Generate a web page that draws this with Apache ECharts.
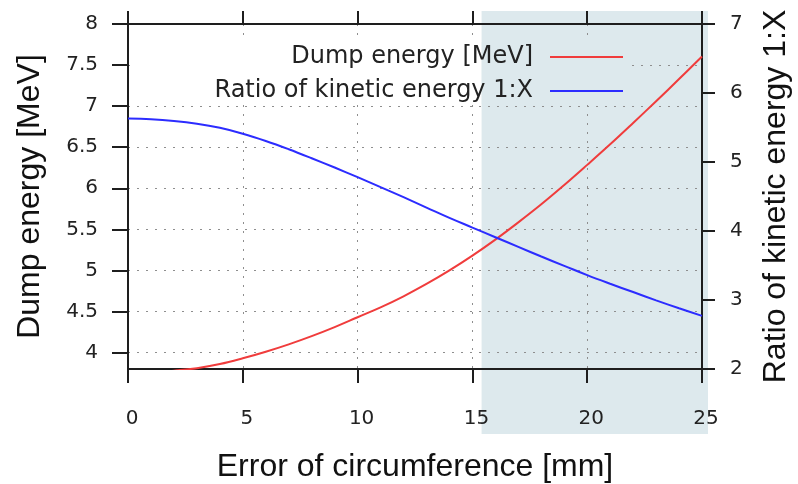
<!DOCTYPE html>
<html>
<head>
<meta charset="utf-8">
<script src="https://cdn.jsdelivr.net/npm/echarts@6/dist/echarts.min.js"></script>
<style>
html,body{margin:0;padding:0;background:#fff;}
#chart{width:798px;height:484px;}
</style>
</head>
<body>
<div id="chart"></div>
<script>
var errorMm = [0,1,2,3,4,5,6,7,8,9,10,11,12,13,14,15,16,17,18,19,20,21,22,23,24,25];
var dumpEnergy = [3.75,3.76,3.78,3.81,3.86,3.93,4.01,4.10,4.20,4.31,4.43,4.55,4.685,4.835,5.00,5.18,5.375,5.585,5.805,6.04,6.285,6.535,6.795,7.06,7.33,7.605];
var energyRatio = [5.63,5.62,5.595,5.555,5.495,5.41,5.305,5.185,5.055,4.92,4.78,4.635,4.49,4.34,4.19,4.05,3.91,3.77,3.63,3.495,3.36,3.235,3.115,2.995,2.88,2.77];
var xTicks = [0,5,10,15,20,25];
var leftTicks = [4,4.5,5,5.5,6,6.5,7,7.5,8];
var rightTicks = [2,3,4,5,6,7];
var seriesNames = ['Dump energy [MeV]','Ratio of kinetic energy 1:X'];
var shadeFrom = 15.4;

var axisColor = '#1e1e1e';
var gridLine = {show: true, lineStyle: {color: '#8e8e8e', width: 1, type: [2, 7]}};
var nameFont = {fontFamily: 'Liberation Sans', fontSize: 32, color: '#111'};

function pairs(xs, ys){
	var out = [];
	for(var i = 0;i < xs.length;i++){
		out.push([xs[i], ys[i]]);
	}
	return out;
}

function legendFor(name, top){
	return {
		data: [name],
		orient: 'vertical',
		align: 'right',
		right: 175,
		top: top,
		padding: 0,
		icon: 'rect',
		itemWidth: 73,
		itemHeight: 2,
		z: 10,
		textStyle: {fontFamily: 'DejaVu Sans', fontSize: 24, color: '#222', padding: [0, 12, 0, 0]}
	};
}

function axisLineOf(){
	return {show: true, onZero: false, lineStyle: {color: axisColor, width: 2}};
}

var chart = echarts.init(document.getElementById('chart'));
var option = {
	animation: false,
	backgroundColor: '#fff',
	grid: {left: 128, right: 96, top: 24, bottom: 115, outerBoundsMode: 'none'},
	legend: [legendFor(seriesNames[0], 45), legendFor(seriesNames[1], 79)],
	xAxis: [{
		type: 'value',
		min: 0,
		max: 25,
		position: 'bottom',
		name: 'Error of circumference [mm]',
		nameLocation: 'middle',
		nameGap: 82,
		nameTextStyle: nameFont,
		axisLine: axisLineOf(),
		axisTick: {show: true, inside: false, length: 14, lineStyle: {color: axisColor, width: 2}, customValues: xTicks},
		axisLabel: {show: true, margin: 40, padding: [0, 0, 0, 8], customValues: xTicks, fontFamily: 'DejaVu Sans', fontSize: 20, color: '#222'},
		splitLine: gridLine
	}, {
		type: 'value',
		min: 0,
		max: 25,
		position: 'top',
		axisLine: axisLineOf(),
		axisTick: {show: true, inside: false, length: 13, lineStyle: {color: axisColor, width: 2}, customValues: xTicks},
		axisLabel: {show: false},
		splitLine: {show: false}
	}],
	yAxis: [{
		type: 'value',
		min: 3.8,
		max: 8,
		position: 'left',
		name: seriesNames[0],
		nameLocation: 'middle',
		nameRotate: 90,
		nameGap: 82,
		nameTextStyle: nameFont,
		axisLine: axisLineOf(),
		axisTick: {show: true, inside: false, length: 16, lineStyle: {color: axisColor, width: 2}, customValues: leftTicks},
		axisLabel: {show: true, margin: 30, customValues: leftTicks, fontFamily: 'DejaVu Sans', fontSize: 20, color: '#222'},
		splitLine: gridLine
	}, {
		type: 'value',
		min: 2,
		max: 7,
		position: 'right',
		name: seriesNames[1],
		nameLocation: 'middle',
		nameRotate: 90,
		nameGap: 58,
		nameTextStyle: nameFont,
		axisLine: axisLineOf(),
		axisTick: {show: true, inside: false, length: 13, lineStyle: {color: axisColor, width: 2}, customValues: rightTicks},
		axisLabel: {show: true, margin: 28, customValues: rightTicks, fontFamily: 'DejaVu Sans', fontSize: 20, color: '#222'},
		splitLine: {show: false}
	}],
	series: [{
		name: seriesNames[0],
		type: 'line',
		xAxisIndex: 0,
		yAxisIndex: 0,
		symbol: 'none',
		smooth: 0.4,
		clip: true,
		color: '#f03c3c',
		lineStyle: {color: '#f03c3c', width: 2},
		data: pairs(errorMm, dumpEnergy)
	}, {
		name: seriesNames[1],
		type: 'line',
		xAxisIndex: 0,
		yAxisIndex: 1,
		symbol: 'none',
		smooth: 0.4,
		clip: true,
		color: '#2c2cff',
		lineStyle: {color: '#2c2cff', width: 2},
		data: pairs(errorMm, energyRatio)
	}]
};
chart.setOption(option);

// shaded band from shadeFrom to the right edge, drawn behind the grid lines;
// a white box behind the legend hides the grid lines there
var shadeX = chart.convertToPixel({xAxisIndex: 0}, shadeFrom);
var shadeColor = '#dde9ed';
chart.setOption({
	graphic: [
		{type: 'rect', z: -1, silent: true, shape: {x: shadeX, y: 11, width: 708 - shadeX, height: 423}, style: {fill: shadeColor}},
		{type: 'rect', z: 1, silent: true, shape: {x: 137, y: 42, width: shadeX - 137, height: 62}, style: {fill: '#fff'}},
		{type: 'rect', z: 1, silent: true, shape: {x: shadeX, y: 42, width: 632 - shadeX, height: 62}, style: {fill: shadeColor}}
	]
});
window.onresize = chart.resize;
</script>
</body>
</html>
